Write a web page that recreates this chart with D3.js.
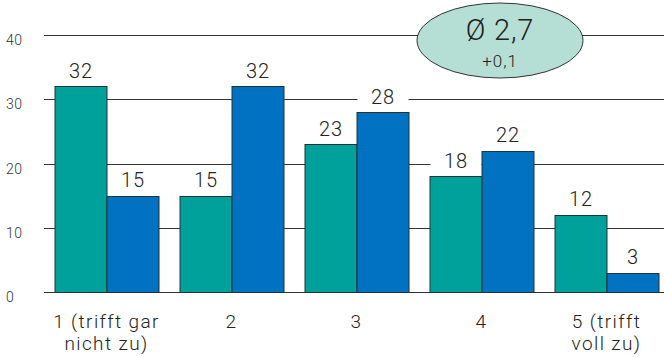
<!DOCTYPE html>
<html>
<head>
<meta charset="utf-8">
<script src="https://cdn.jsdelivr.net/npm/d3@7"></script>
<style>
  html, body { margin: 0; padding: 0; background: #fff; }
  svg { display: block; font-family: Roboto, "Liberation Sans", Arial, sans-serif; font-weight: 300; }
</style>
</head>
<body>
<svg id="chart" width="664" height="357"></svg>
<script>
// Answer categories (two-line labels)
const categories = [
  ["1 (trifft gar", "nicht zu)"],
  ["2"],
  ["3"],
  ["4"],
  ["5 (trifft", "voll zu)"]
];
// Two series: earlier and current survey
const seriesA = [32, 15, 23, 18, 12];
const seriesB = [15, 32, 28, 22, 3];
const yTicks = [0, 10, 20, 30, 40];
const meanLabel = "Ø 2,7";
const deltaLabel = "+0,1";

const colors = ["#00A19A", "#0072C1"];

const svg = d3.select("#chart");
const W = 664, H = 357;
const left = 44, right = 669, y0 = 292, yTop = 35;

const x = d3.scaleBand()
  .domain(d3.range(categories.length))
  .range([left, right])
  .paddingInner(0.168)
  .paddingOuter(0.084);

const xs = d3.scaleBand()
  .domain([0, 1])
  .range([0, x.bandwidth()]);

const y = d3.scaleLinear().domain([0, 40]).range([y0, yTop]);

// Gridlines with left-aligned tick labels
const grid = svg.append("g");
grid.selectAll("line")
  .data(yTicks)
  .join("line")
  .attr("x1", left)
  .attr("x2", W)
  .attr("y1", d => Math.round(y(d)) + 0.5)
  .attr("y2", d => Math.round(y(d)) + 0.5)
  .attr("stroke", "#333")
  .attr("stroke-width", 1);

grid.selectAll("text")
  .data(yTicks)
  .join("text")
  .attr("x", 6)
  .attr("y", d => y(d) + 10)
  .attr("font-size", 14)
  .attr("letter-spacing", 0.6)
  .attr("fill", "#333")
  .text(d => d);

const rows = categories.map((c, i) => [
  { i, s: 0, v: seriesA[i] },
  { i, s: 1, v: seriesB[i] }
]);

const groups = svg.append("g")
  .selectAll("g")
  .data(rows)
  .join("g")
  .attr("transform", (d, i) => `translate(${x(i)},0)`);

// White boxes behind value labels hide the gridlines there
groups.selectAll("rect.bg")
  .data(d => d)
  .join("rect")
  .attr("class", "bg")
  .attr("x", d => xs(d.s) + 1)
  .attr("y", d => y(d.v) - 30)
  .attr("width", xs.bandwidth() - 1)
  .attr("height", 29)
  .attr("fill", "#fff");

// Bars
groups.selectAll("rect.bar")
  .data(d => d)
  .join("rect")
  .attr("class", "bar")
  .attr("x", d => xs(d.s) + 0.5)
  .attr("y", d => Math.round(y(d.v)) + 0.5)
  .attr("width", xs.bandwidth())
  .attr("height", d => y0 - Math.round(y(d.v)))
  .attr("fill", d => colors[d.s])
  .attr("stroke", "#1d3438")
  .attr("stroke-width", 1);

// Value labels
groups.selectAll("text")
  .data(d => d)
  .join("text")
  .attr("x", d => xs(d.s) + xs.bandwidth() / 2 + 0.5)
  .attr("y", d => y(d.v) - 8.5)
  .attr("text-anchor", "middle")
  .attr("font-size", 20)
  .attr("letter-spacing", 0.8)
  .attr("fill", "#222")
  .text(d => d.v);

// Category labels
const cat = svg.append("g")
  .selectAll("text")
  .data(categories)
  .join("text")
  .attr("x", (d, i) => x(i) + x.bandwidth() / 2)
  .attr("y", 328)
  .attr("text-anchor", "middle")
  .attr("font-size", 19)
  .attr("letter-spacing", 1.4)
  .attr("fill", "#222");

cat.selectAll("tspan")
  .data(d => d)
  .join("tspan")
  .attr("x", function () { return this.parentNode.getAttribute("x"); })
  .attr("dy", (d, j) => j === 0 ? 0 : 22)
  .text(d => d);

// Average bubble
const bubble = svg.append("g");
bubble.append("ellipse")
  .attr("cx", 500)
  .attr("cy", 40.5)
  .attr("rx", 83)
  .attr("ry", 37.5)
  .attr("fill", "#B5DFD5")
  .attr("stroke", "#333")
  .attr("stroke-width", 1);
bubble.append("text")
  .attr("x", 500)
  .attr("y", 40)
  .attr("text-anchor", "middle")
  .attr("font-size", 29)
  .attr("letter-spacing", 0.8)
  .attr("fill", "#222")
  .text(meanLabel);
bubble.append("text")
  .attr("x", 500)
  .attr("y", 67)
  .attr("text-anchor", "middle")
  .attr("font-size", 17)
  .attr("letter-spacing", 1)
  .attr("fill", "#222")
  .text(deltaLabel);
</script>
</body>
</html>
